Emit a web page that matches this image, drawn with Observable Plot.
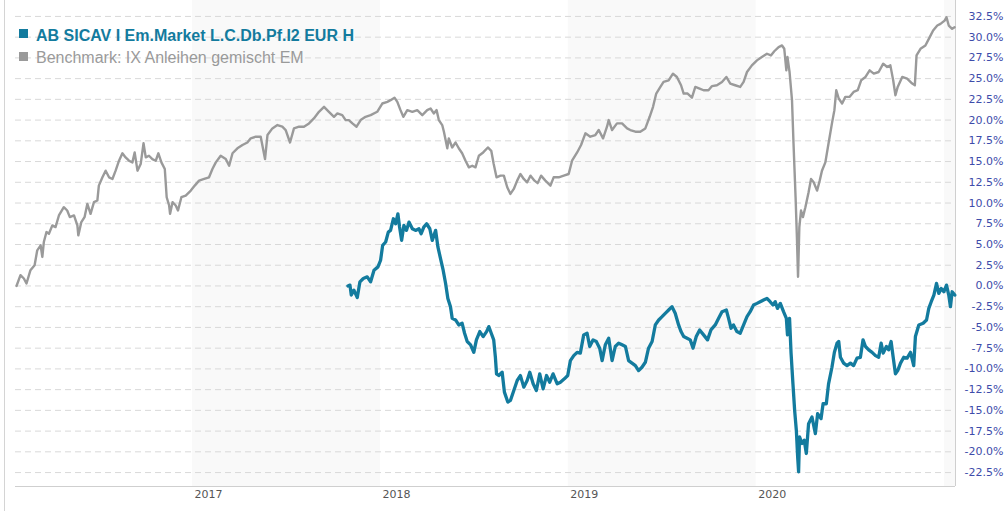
<!DOCTYPE html>
<html><head><meta charset="utf-8">
<script src="https://cdn.jsdelivr.net/npm/d3@7"></script>
<script src="https://cdn.jsdelivr.net/npm/@observablehq/plot@0.6"></script>
<style>
body{margin:0;background:#fff;}
#wrap{position:relative;width:1006px;height:511px;overflow:hidden;}
#border{position:absolute;left:4px;top:0;width:1px;height:511px;background:#d4d4d4;}
.sw{position:absolute;width:9px;height:9px;}
.lt{position:absolute;left:36px;font-family:"Liberation Sans",Arial,sans-serif;font-size:16px;line-height:16px;white-space:nowrap;}
g[aria-label="ylab"] text{letter-spacing:1.5px}
g[aria-label="xlab"] text{letter-spacing:1.5px}
</style></head>
<body>
<div id="wrap"><div id="border"></div></div>
<script>
const seriesNames = ["AB SICAV I Em.Market L.C.Db.Pf.I2 EUR H", "Benchmark: IX Anleihen gemischt EM"];
const seriesColors = ["#137b9e", "#9a9a9a"];

const benchT = [2016.066,2016.087,2016.105,2016.119,2016.140,2016.162,2016.176,2016.194,2016.203,2016.211,2016.225,2016.238,2016.256,2016.273,2016.291,2016.317,2016.335,2016.349,2016.371,2016.389,2016.394,2016.410,2016.427,2016.442,2016.459,2016.477,2016.495,2016.503,2016.522,2016.539,2016.557,2016.575,2016.592,2016.610,2016.628,2016.645,2016.663,2016.681,2016.693,2016.708,2016.725,2016.740,2016.752,2016.769,2016.787,2016.805,2016.819,2016.835,2016.853,2016.863,2016.876,2016.881,2016.894,2016.911,2016.923,2016.941,2016.964,2016.991,2017.012,2017.035,2017.062,2017.088,2017.106,2017.124,2017.150,2017.177,2017.195,2017.213,2017.239,2017.266,2017.292,2017.310,2017.337,2017.363,2017.386,2017.399,2017.425,2017.452,2017.478,2017.496,2017.519,2017.540,2017.567,2017.593,2017.620,2017.646,2017.673,2017.700,2017.726,2017.753,2017.771,2017.797,2017.815,2017.832,2017.851,2017.873,2017.895,2017.921,2017.948,2017.983,2018.010,2018.037,2018.054,2018.075,2018.090,2018.107,2018.122,2018.143,2018.170,2018.196,2018.223,2018.249,2018.267,2018.284,2018.299,2018.311,2018.329,2018.338,2018.356,2018.364,2018.382,2018.400,2018.417,2018.435,2018.453,2018.471,2018.489,2018.506,2018.524,2018.547,2018.572,2018.590,2018.603,2018.618,2018.639,2018.657,2018.675,2018.692,2018.710,2018.728,2018.745,2018.763,2018.781,2018.799,2018.820,2018.837,2018.855,2018.878,2018.905,2018.922,2018.949,2018.976,2019.002,2019.020,2019.047,2019.068,2019.091,2019.117,2019.144,2019.162,2019.185,2019.206,2019.215,2019.233,2019.259,2019.286,2019.313,2019.330,2019.357,2019.383,2019.410,2019.433,2019.451,2019.468,2019.490,2019.507,2019.534,2019.557,2019.578,2019.600,2019.614,2019.635,2019.658,2019.676,2019.699,2019.720,2019.746,2019.765,2019.791,2019.818,2019.841,2019.862,2019.888,2019.915,2019.933,2019.951,2019.977,2020.004,2020.030,2020.057,2020.078,2020.096,2020.119,2020.137,2020.149,2020.160,2020.166,2020.177,2020.190,2020.198,2020.209,2020.216,2020.222,2020.229,2020.238,2020.248,2020.261,2020.278,2020.291,2020.305,2020.323,2020.337,2020.349,2020.367,2020.384,2020.402,2020.415,2020.425,2020.438,2020.456,2020.473,2020.496,2020.517,2020.539,2020.557,2020.580,2020.602,2020.624,2020.650,2020.674,2020.695,2020.712,2020.727,2020.739,2020.751,2020.775,2020.801,2020.828,2020.842,2020.851,2020.872,2020.898,2020.921,2020.939,2020.961,2020.978,2021.000,2021.010,2021.022,2021.040,2021.053];
const benchV = [0.0,1.3,0.9,0.3,1.9,2.5,4.3,4.9,3.5,5.3,6.5,6.3,7.3,7.1,8.5,9.5,9.1,8.3,8.5,7.3,6.1,7.7,8.3,9.9,8.7,10.1,10.3,12.1,13.1,13.9,13.1,12.9,13.9,15.1,16.0,15.5,15.1,14.9,16.1,13.9,14.7,17.2,15.5,15.7,15.3,15.1,16.0,14.9,14.1,10.7,9.7,8.7,10.1,9.7,9.1,10.7,10.9,11.5,12.1,12.7,12.9,13.1,14.1,14.9,15.7,15.3,14.5,16.0,16.6,17.0,17.3,17.8,18.0,18.0,15.3,18.2,19.0,19.4,19.2,18.8,17.3,19.0,19.2,19.2,19.6,20.2,21.0,21.6,21.0,20.4,20.8,20.6,20.0,20.0,19.6,19.2,20.0,20.4,20.6,21.0,22.0,22.2,22.4,22.7,22.2,21.2,20.4,21.2,21.0,21.2,20.6,21.2,21.4,20.8,21.2,20.0,19.4,18.6,16.6,17.8,16.7,17.3,16.6,16.0,15.1,14.3,14.5,14.3,15.7,16.1,16.7,16.3,14.7,13.1,13.3,13.3,11.9,11.1,11.7,12.7,13.5,12.9,12.5,13.3,12.7,12.4,13.3,12.7,12.1,13.1,13.1,13.3,13.5,15.1,16.1,17.0,18.4,18.0,18.2,18.8,17.8,19.2,20.0,18.8,19.6,19.6,19.0,18.8,18.6,18.6,19.0,20.4,21.6,23.2,24.0,24.6,24.8,25.6,25.2,24.2,23.2,23.2,22.7,24.0,23.8,23.6,23.6,24.1,24.2,24.6,25.2,24.4,24.2,24.0,24.6,25.8,26.6,27.2,27.6,28.0,27.8,28.3,28.8,29.0,28.6,26.0,27.6,25.8,22.4,17.2,10.7,5.9,1.1,7.1,9.1,8.3,9.5,11.3,12.9,12.5,11.5,12.7,13.9,14.9,17.2,19.6,21.2,23.6,22.6,22.0,22.8,22.8,23.4,23.6,24.8,25.2,26.0,25.6,25.8,26.8,26.4,26.6,24.8,23.0,24.0,25.2,25.0,24.4,24.2,27.8,28.6,29.0,30.0,30.8,31.4,31.6,32.0,32.4,31.4,31.0,31.2];

const fundT = [2017.827,2017.838,2017.845,2017.859,2017.877,2017.891,2017.909,2017.930,2017.948,2017.966,2017.987,2018.001,2018.012,2018.028,2018.042,2018.054,2018.069,2018.081,2018.093,2018.102,2018.113,2018.125,2018.139,2018.152,2018.170,2018.187,2018.205,2018.217,2018.231,2018.246,2018.263,2018.276,2018.294,2018.306,2018.320,2018.334,2018.347,2018.359,2018.373,2018.382,2018.400,2018.417,2018.435,2018.448,2018.462,2018.480,2018.497,2018.511,2018.529,2018.547,2018.565,2018.577,2018.590,2018.603,2018.612,2018.618,2018.630,2018.648,2018.660,2018.678,2018.692,2018.710,2018.728,2018.745,2018.763,2018.781,2018.795,2018.813,2018.830,2018.848,2018.866,2018.884,2018.901,2018.919,2018.941,2018.958,2018.979,2018.997,2019.011,2019.029,2019.047,2019.064,2019.082,2019.100,2019.114,2019.132,2019.149,2019.167,2019.180,2019.197,2019.215,2019.233,2019.250,2019.268,2019.286,2019.304,2019.321,2019.339,2019.357,2019.374,2019.392,2019.410,2019.427,2019.446,2019.463,2019.481,2019.499,2019.516,2019.534,2019.552,2019.569,2019.587,2019.600,2019.614,2019.632,2019.649,2019.664,2019.681,2019.699,2019.720,2019.741,2019.759,2019.782,2019.800,2019.818,2019.841,2019.853,2019.866,2019.879,2019.897,2019.915,2019.933,2019.951,2019.968,2019.986,2020.004,2020.021,2020.039,2020.057,2020.074,2020.089,2020.101,2020.113,2020.128,2020.145,2020.160,2020.166,2020.177,2020.185,2020.195,2020.204,2020.213,2020.220,2020.225,2020.230,2020.243,2020.255,2020.266,2020.278,2020.296,2020.314,2020.326,2020.344,2020.355,2020.372,2020.384,2020.402,2020.415,2020.429,2020.438,2020.447,2020.464,2020.482,2020.500,2020.517,2020.535,2020.553,2020.567,2020.580,2020.597,2020.615,2020.633,2020.650,2020.663,2020.674,2020.691,2020.703,2020.716,2020.727,2020.739,2020.751,2020.766,2020.783,2020.801,2020.819,2020.836,2020.845,2020.863,2020.886,2020.904,2020.916,2020.929,2020.943,2020.957,2020.969,2020.982,2020.996,2021.010,2021.022,2021.031,2021.040,2021.054];
const fundV = [0.0,0.1,-1.1,-0.5,-1.4,0.5,0.9,1.1,0.5,1.9,2.3,3.1,4.9,5.3,6.5,6.7,8.1,7.5,8.7,7.1,5.5,7.3,6.7,7.7,6.9,6.7,6.9,6.3,7.1,7.5,6.9,5.5,6.7,4.7,3.3,1.9,0.3,-1.5,-2.5,-3.9,-4.1,-4.7,-4.5,-5.7,-6.7,-7.1,-8.0,-6.5,-5.5,-6.1,-5.5,-4.9,-5.7,-6.5,-8.6,-10.6,-10.8,-10.4,-12.8,-14.0,-13.8,-12.6,-11.4,-10.8,-12.2,-11.4,-10.4,-11.8,-12.6,-10.6,-12.4,-10.8,-11.6,-10.6,-11.8,-11.6,-11.2,-10.8,-9.0,-8.4,-8.0,-8.1,-5.9,-5.7,-7.3,-6.5,-6.7,-7.5,-9.0,-7.1,-6.3,-9.0,-7.3,-6.9,-7.1,-7.3,-9.0,-9.3,-9.6,-10.2,-9.8,-9.2,-7.5,-6.7,-4.7,-4.1,-3.7,-3.3,-2.9,-2.5,-3.3,-4.7,-5.5,-6.1,-6.3,-6.5,-7.5,-6.1,-5.3,-5.9,-6.5,-5.3,-4.7,-3.9,-3.1,-2.9,-3.9,-5.1,-4.7,-5.5,-5.7,-4.7,-3.7,-3.1,-2.3,-2.1,-1.9,-1.7,-1.5,-1.9,-2.3,-1.9,-2.7,-2.1,-3.1,-3.9,-5.9,-3.9,-8.1,-11.8,-15.0,-17.4,-20.6,-22.4,-18.2,-19.0,-18.6,-20.2,-16.6,-15.8,-17.8,-15.4,-16.0,-14.2,-14.2,-11.8,-9.8,-8.0,-6.9,-6.7,-8.6,-9.3,-9.6,-9.3,-9.6,-8.7,-8.6,-6.5,-7.3,-7.7,-8.0,-8.4,-8.6,-6.9,-8.1,-7.3,-7.7,-6.7,-8.6,-10.6,-10.2,-9.3,-8.6,-8.7,-8.0,-9.6,-6.1,-4.7,-4.5,-4.1,-2.7,-1.9,-1.1,0.3,-0.9,-0.3,-0.7,0.1,-1.1,-2.5,-0.7,-1.1];

const yearTicks = [2017, 2018, 2019, 2020];
const shadedYears = [2017, 2019, 2021];
const yTicks = [-22.5,-20,-17.5,-15,-12.5,-10,-7.5,-5,-2.5,0,2.5,5,7.5,10,12.5,15,17.5,20,22.5,25,27.5,30,32.5];

function toDate(t) {
  const y = Math.floor(t);
  const a = Date.UTC(y, 0, 1), b = Date.UTC(y + 1, 0, 1);
  return new Date(a + (t - y) * (b - a));
}
const yearStart = y => new Date(Date.UTC(y, 0, 1));
const bench = benchT.map((t, i) => ({date: toDate(t), value: benchV[i]}));
const fund = fundT.map((t, i) => ({date: toDate(t), value: fundV[i]}));
const fmt = v => (v < 0 ? "-" : "") + Math.abs(v).toFixed(1) + "%";

const xDomain = [toDate(2016.0606), toDate(2021.0579)];
const yDomain = [-24.18, 34.42];

const chart = Plot.plot({
  width: 1006, height: 511,
  marginLeft: 15, marginRight: 51, marginTop: 0, marginBottom: 25,
  x: {type: "utc", domain: xDomain, axis: null},
  y: {domain: yDomain, axis: null},
  style: {fontFamily: "'DejaVu Sans', sans-serif", fontSize: "11px", background: "transparent", overflow: "visible"},
  marks: [
    Plot.rect(shadedYears, {x1: d => yearStart(d), x2: d => yearStart(d + 1), fill: "#f9f9f9", clip: true}),
    Plot.ruleY(yTicks, {stroke: "#d9d9d9", strokeDasharray: "6,4", strokeWidth: 1}),
    Plot.ruleY([yDomain[0]], {stroke: "#cfcfcf", strokeWidth: 1}),
    Plot.ruleX([xDomain[1]], {stroke: "#cfcfcf", strokeWidth: 1}),
    Plot.line(bench, {x: "date", y: "value", stroke: seriesColors[1], strokeWidth: 2.4, strokeLinejoin: "round"}),
    Plot.line(fund, {x: "date", y: "value", stroke: seriesColors[0], strokeWidth: 3.3, strokeLinejoin: "round"}),
    Plot.text(yTicks, {y: d => d, text: fmt, frameAnchor: "right", textAnchor: "end", dx: 48, fill: "#3d4caa", ariaLabel: "ylab"}),
    Plot.text(yearTicks, {x: d => yearStart(d), text: d => String(d), frameAnchor: "bottom", textAnchor: "start", lineAnchor: "top", dx: 2, dy: 4, fill: "#555", ariaLabel: "xlab"})
  ]
});
const wrap = document.getElementById("wrap");
wrap.insertBefore(chart, wrap.firstChild);
chart.style.position = "absolute"; chart.style.left = "0"; chart.style.top = "0";

// legend
[[0, 29, 27.5, "bold"], [1, 52, 50, "normal"]].forEach(([i, sqTop, txtTop, weight]) => {
  const sq = document.createElement("div");
  sq.className = "sw"; sq.style.left = "19px"; sq.style.top = sqTop + "px"; sq.style.background = seriesColors[i];
  const tx = document.createElement("div");
  tx.className = "lt"; tx.style.top = txtTop + "px"; tx.style.fontWeight = weight; tx.style.color = seriesColors[i];
  tx.textContent = seriesNames[i];
  wrap.appendChild(sq); wrap.appendChild(tx);
});
</script>
</body></html>
